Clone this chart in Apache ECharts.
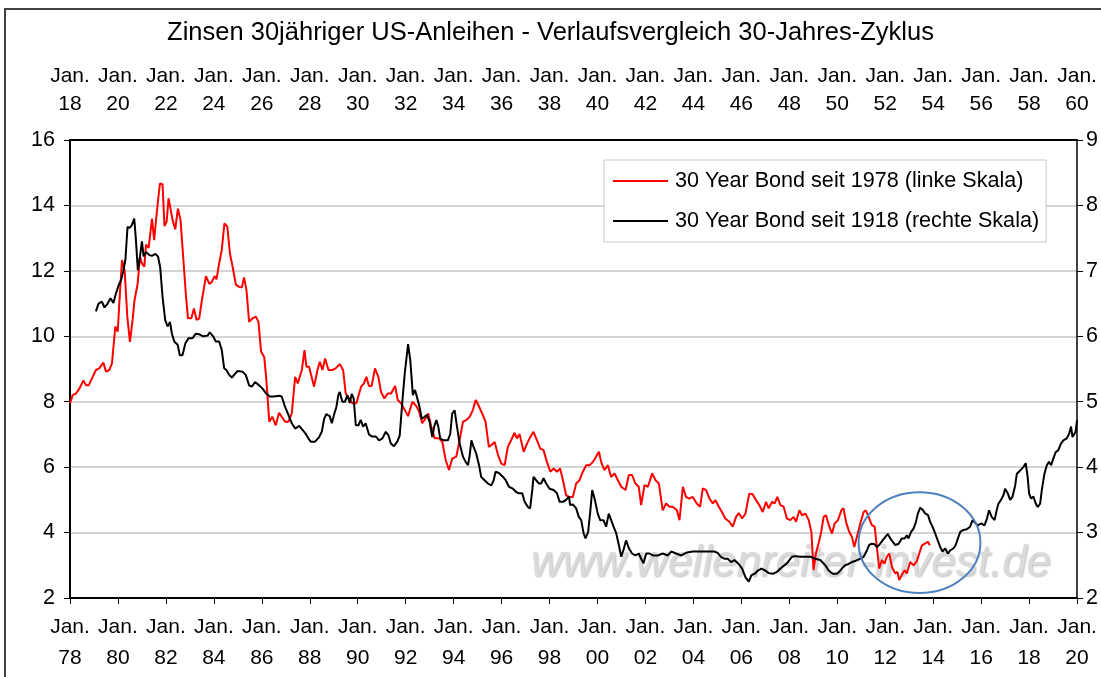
<!DOCTYPE html>
<html>
<head>
<meta charset="utf-8">
<script src="https://cdn.jsdelivr.net/npm/echarts@6/dist/echarts.min.js"></script>
<style>
  html, body { margin: 0; padding: 0; background: #fff; }
  #chart { width: 1101px; height: 677px; }
</style>
</head>
<body>
<div id="chart"></div>
<script>
// 30 Year Bond seit 1978 (linke Skala) – Jahr (dezimal) und Zins
var redYears = [
  1978.00, 1978.11, 1978.25, 1978.39, 1978.56, 1978.67, 1978.78, 1978.94, 1979.08, 1979.22,
  1979.39, 1979.50, 1979.64, 1979.75, 1979.89, 1979.99, 1980.08, 1980.17, 1980.28, 1980.39,
  1980.50, 1980.61, 1980.69, 1980.82, 1980.92, 1981.00, 1981.10, 1981.17, 1981.28, 1981.42,
  1981.51, 1981.63, 1981.75, 1981.86, 1981.94, 1982.03, 1982.11, 1982.19, 1982.28, 1982.39,
  1982.50, 1982.61, 1982.72, 1982.83, 1982.92, 1983.06, 1983.17, 1983.28, 1983.39, 1983.50,
  1983.67, 1983.81, 1983.92, 1984.03, 1984.11, 1984.22, 1984.33, 1984.44, 1984.56, 1984.67,
  1984.78, 1984.92, 1985.06, 1985.17, 1985.26, 1985.36, 1985.47, 1985.61, 1985.75, 1985.86,
  1985.97, 1986.10, 1986.19, 1986.31, 1986.44, 1986.58, 1986.72, 1986.83, 1986.97, 1987.11,
  1987.25, 1987.39, 1987.50, 1987.67, 1987.78, 1987.86, 1987.97, 1988.18, 1988.32, 1988.42,
  1988.53, 1988.64, 1988.78, 1988.94, 1989.08, 1989.25, 1989.39, 1989.50, 1989.64, 1989.78,
  1989.94, 1990.14, 1990.26, 1990.36, 1990.47, 1990.58, 1990.72, 1990.86, 1990.97, 1991.11,
  1991.25, 1991.39, 1991.56, 1991.67, 1991.81, 1991.89, 1992.10, 1992.28, 1992.44, 1992.56,
  1992.69, 1992.83, 1992.94, 1993.07, 1993.21, 1993.39, 1993.53, 1993.67, 1993.81, 1993.94,
  1994.11, 1994.25, 1994.39, 1994.53, 1994.67, 1994.81, 1994.92, 1995.03, 1995.19, 1995.33,
  1995.47, 1995.57, 1995.71, 1995.85, 1995.99, 1996.13, 1996.26, 1996.40, 1996.54, 1996.64,
  1996.75, 1996.92, 1997.06, 1997.17, 1997.33, 1997.47, 1997.61, 1997.75, 1997.89, 1998.03,
  1998.17, 1998.31, 1998.44, 1998.56, 1998.69, 1998.83, 1998.97, 1999.11, 1999.25, 1999.39,
  1999.53, 1999.67, 1999.81, 1999.94, 2000.06, 2000.15, 2000.29, 2000.43, 2000.57, 2000.71,
  2000.85, 2000.99, 2001.17, 2001.31, 2001.44, 2001.58, 2001.72, 2001.82, 2001.96, 2002.10,
  2002.19, 2002.28, 2002.42, 2002.56, 2002.72, 2002.86, 2003.00, 2003.14, 2003.31, 2003.42,
  2003.56, 2003.69, 2003.83, 2003.97, 2004.14, 2004.28, 2004.39, 2004.53, 2004.67, 2004.81,
  2004.92, 2005.06, 2005.19, 2005.33, 2005.50, 2005.64, 2005.78, 2005.89, 2006.03, 2006.17,
  2006.33, 2006.47, 2006.61, 2006.75, 2006.89, 2007.03, 2007.14, 2007.28, 2007.39, 2007.50,
  2007.63, 2007.76, 2007.90, 2008.04, 2008.18, 2008.28, 2008.42, 2008.53, 2008.67, 2008.81,
  2008.92, 2009.01, 2009.11, 2009.22, 2009.33, 2009.43, 2009.53, 2009.67, 2009.78, 2009.89,
  2010.03, 2010.17, 2010.26, 2010.38, 2010.50, 2010.61, 2010.71, 2010.82, 2010.96, 2011.10,
  2011.19, 2011.31, 2011.44, 2011.56, 2011.65, 2011.75, 2011.86, 2011.97, 2012.07, 2012.17,
  2012.28, 2012.42, 2012.51, 2012.58, 2012.69, 2012.81, 2012.90, 2013.04, 2013.18, 2013.32,
  2013.42, 2013.53, 2013.67, 2013.78, 2013.86
];
var redRates = [
  7.95, 8.20, 8.25, 8.40, 8.65, 8.50, 8.50, 8.75, 8.97, 9.02,
  9.20, 8.92, 8.97, 9.17, 10.30, 10.14, 11.30, 12.33, 12.00, 10.60,
  9.83, 10.50, 11.10, 11.60, 12.43, 12.23, 12.13, 12.80, 12.70, 13.60,
  12.94, 13.86, 14.67, 14.65, 13.37, 13.50, 14.22, 14.20, 13.55, 13.27,
  13.90, 13.55, 12.43, 11.30, 10.55, 10.55, 10.85, 10.50, 10.55, 11.10,
  11.84, 11.60, 11.67, 11.84, 11.74, 12.23, 12.64, 13.45, 13.35, 12.53,
  12.13, 11.57, 11.51, 11.50, 11.80, 11.41, 10.44, 10.55, 10.60, 10.44,
  9.53, 9.37, 8.66, 7.39, 7.54, 7.28, 7.66, 7.54, 7.39, 7.39,
  7.64, 8.76, 8.56, 8.97, 9.58, 9.07, 9.07, 8.46, 8.97, 9.22,
  8.97, 9.32, 8.97, 8.97, 9.02, 9.15, 8.97, 8.25, 8.10, 7.95,
  7.95, 8.46, 8.56, 8.76, 8.48, 8.48, 9.02, 8.76, 8.30, 8.10,
  8.25, 8.25, 8.48, 8.05, 7.95, 8.00, 7.56, 8.00, 7.87, 7.70,
  7.34, 7.49, 7.64, 7.23, 6.88, 6.88, 6.77, 6.21, 5.91, 6.26,
  6.32, 6.83, 7.39, 7.44, 7.54, 7.76, 8.05, 7.90, 7.64, 7.39,
  6.62, 6.67, 6.77, 6.37, 6.11, 6.06, 6.62, 6.83, 7.05, 6.88,
  7.01, 6.47, 6.72, 6.88, 7.08, 6.83, 6.57, 6.52, 6.16, 5.86,
  5.96, 5.86, 5.96, 5.60, 5.14, 5.09, 5.09, 5.50, 5.60, 5.86,
  6.06, 6.06, 6.16, 6.32, 6.47, 6.16, 5.91, 6.06, 5.70, 5.81,
  5.60, 5.40, 5.30, 5.76, 5.76, 5.50, 5.40, 4.84, 5.45, 5.40,
  5.60, 5.81, 5.60, 5.50, 4.68, 4.89, 4.79, 4.79, 4.68, 4.38,
  5.40, 5.09, 5.04, 5.09, 4.89, 4.79, 5.35, 5.30, 5.04, 4.89,
  4.99, 4.79, 4.63, 4.43, 4.33, 4.18, 4.48, 4.60, 4.43, 4.58,
  5.19, 5.17, 4.99, 4.84, 4.63, 4.94, 4.74, 4.94, 4.89, 5.09,
  4.84, 4.79, 4.43, 4.38, 4.48, 4.33, 4.68, 4.53, 4.58, 4.38,
  4.02, 2.85, 3.36, 3.67, 4.02, 4.48, 4.53, 4.18, 3.97, 4.28,
  4.38, 4.68, 4.74, 4.28, 4.02, 3.87, 3.56, 3.87, 4.28, 4.63,
  4.68, 4.48, 4.23, 4.18, 3.56, 2.90, 3.16, 3.05, 3.26, 3.36,
  2.95, 2.75, 2.80, 2.55, 2.70, 2.85, 2.75, 3.10, 3.00, 3.13,
  3.36, 3.61, 3.67, 3.72, 3.61
];

// 30 Year Bond seit 1918 (rechte Skala) – Jahr (dezimal, obere Achse) und Zins
var blackYears = [
  1919.08, 1919.19, 1919.33, 1919.44, 1919.57, 1919.69, 1919.81, 1919.92, 1920.03, 1920.13,
  1920.22, 1920.31, 1920.40, 1920.50, 1920.58, 1920.68, 1920.75, 1920.83, 1920.92, 1921.00,
  1921.07, 1921.17, 1921.31, 1921.42, 1921.56, 1921.67, 1921.76, 1921.86, 1921.97, 1922.07,
  1922.17, 1922.25, 1922.35, 1922.49, 1922.58, 1922.69, 1922.81, 1922.94, 1923.11, 1923.25,
  1923.39, 1923.56, 1923.74, 1923.83, 1923.97, 1924.08, 1924.22, 1924.33, 1924.43, 1924.53,
  1924.64, 1924.75, 1924.89, 1924.99, 1925.19, 1925.33, 1925.47, 1925.58, 1925.72, 1925.89,
  1926.03, 1926.17, 1926.33, 1926.51, 1926.72, 1926.83, 1926.97, 1927.11, 1927.25, 1927.39,
  1927.56, 1927.67, 1927.81, 1927.94, 1928.04, 1928.22, 1928.39, 1928.50, 1928.60, 1928.69,
  1928.83, 1928.92, 1929.01, 1929.11, 1929.19, 1929.25, 1929.36, 1929.47, 1929.57, 1929.67,
  1929.75, 1929.83, 1929.92, 1930.03, 1930.13, 1930.22, 1930.33, 1930.47, 1930.58, 1930.75,
  1930.89, 1931.03, 1931.17, 1931.28, 1931.38, 1931.51, 1931.65, 1931.75, 1931.86, 1931.96,
  1932.10, 1932.19, 1932.30, 1932.39, 1932.47, 1932.56, 1932.67, 1932.79, 1932.89, 1933.00,
  1933.11, 1933.19, 1933.28, 1933.36, 1933.44, 1933.58, 1933.76, 1933.86, 1933.94, 1934.04,
  1934.14, 1934.25, 1934.39, 1934.50, 1934.60, 1934.67, 1934.74, 1934.83, 1934.94, 1935.06,
  1935.15, 1935.29, 1935.43, 1935.57, 1935.67, 1935.75, 1935.89, 1936.06, 1936.17, 1936.31,
  1936.47, 1936.61, 1936.72, 1936.86, 1936.96, 1937.10, 1937.19, 1937.28, 1937.33, 1937.44,
  1937.56, 1937.65, 1937.75, 1937.86, 1938.00, 1938.17, 1938.31, 1938.42, 1938.56, 1938.69,
  1938.81, 1938.86, 1938.97, 1939.11, 1939.22, 1939.32, 1939.42, 1939.50, 1939.61, 1939.69,
  1939.78, 1939.89, 1940.01, 1940.11, 1940.25, 1940.36, 1940.47, 1940.57, 1940.67, 1940.78,
  1940.89, 1940.99, 1941.08, 1941.19, 1941.31, 1941.44, 1941.58, 1941.72, 1941.82, 1941.92,
  1942.03, 1942.17, 1942.31, 1942.51, 1942.72, 1942.93, 1943.07, 1943.28, 1943.49, 1943.69,
  1943.97, 1944.25, 1944.53, 1944.88, 1945.01, 1945.15, 1945.29, 1945.43, 1945.57, 1945.71,
  1945.89, 1946.03, 1946.17, 1946.31, 1946.42, 1946.56, 1946.69, 1946.83, 1947.00, 1947.14,
  1947.31, 1947.49, 1947.63, 1947.76, 1947.90, 1948.00, 1948.11, 1948.25, 1948.46, 1948.67,
  1948.88, 1949.08, 1949.29, 1949.50, 1949.64, 1949.81, 1949.99, 1950.08, 1950.19, 1950.33,
  1950.47, 1950.61, 1950.78, 1950.96, 1951.10, 1951.24, 1951.33, 1951.44, 1951.56, 1951.65,
  1951.75, 1951.89, 1952.00, 1952.11, 1952.21, 1952.31, 1952.42, 1952.56, 1952.69, 1952.81,
  1952.90, 1952.97, 1953.08, 1953.18, 1953.28, 1953.36, 1953.46, 1953.56, 1953.67, 1953.78,
  1953.88, 1953.97, 1954.08, 1954.19, 1954.29, 1954.39, 1954.50, 1954.61, 1954.72, 1954.85,
  1954.94, 1955.03, 1955.13, 1955.26, 1955.40, 1955.54, 1955.64, 1955.75, 1955.86, 1956.00,
  1956.14, 1956.24, 1956.33, 1956.44, 1956.56, 1956.65, 1956.72, 1956.83, 1956.93, 1957.00,
  1957.11, 1957.21, 1957.31, 1957.42, 1957.49, 1957.63, 1957.76, 1957.86, 1957.94, 1958.00,
  1958.08, 1958.18, 1958.28, 1958.36, 1958.46, 1958.53, 1958.64, 1958.74, 1958.83, 1958.92,
  1959.01, 1959.11, 1959.22, 1959.33, 1959.43, 1959.57, 1959.67, 1959.75, 1959.81, 1959.89,
  1959.94, 1960.00
];
var blackRates = [
  6.38, 6.50, 6.53, 6.44, 6.50, 6.58, 6.51, 6.66, 6.78, 6.86,
  6.99, 7.17, 7.67, 7.66, 7.70, 7.80, 7.47, 7.01, 7.22, 7.45,
  7.22, 7.29, 7.24, 7.23, 7.26, 7.22, 7.06, 6.60, 6.25, 6.15,
  6.22, 6.04, 5.92, 5.87, 5.71, 5.71, 5.89, 5.97, 5.97, 6.04,
  6.03, 6.00, 6.01, 6.06, 6.00, 5.92, 5.92, 5.79, 5.51, 5.48,
  5.41, 5.37, 5.43, 5.47, 5.46, 5.41, 5.25, 5.23, 5.30, 5.25,
  5.20, 5.13, 5.08, 5.08, 5.09, 5.08, 4.92, 4.80, 4.67, 4.59,
  4.63, 4.58, 4.52, 4.44, 4.39, 4.39, 4.46, 4.54, 4.74, 4.81,
  4.78, 4.67, 4.80, 4.92, 5.10, 5.15, 5.00, 5.00, 5.10, 4.98,
  5.12, 5.05, 4.64, 4.64, 4.72, 4.62, 4.67, 4.50, 4.47, 4.47,
  4.41, 4.44, 4.54, 4.49, 4.36, 4.32, 4.39, 4.48, 5.00, 5.43,
  5.88, 5.64, 5.10, 5.18, 5.18, 4.95, 4.74, 4.77, 4.80, 4.69,
  4.46, 4.62, 4.72, 4.62, 4.44, 4.41, 4.41, 4.51, 4.82, 4.87,
  4.62, 4.36, 4.16, 4.08, 4.03, 4.18, 4.41, 4.31, 4.21, 4.03,
  3.85, 3.80, 3.75, 3.72, 3.80, 3.93, 3.91, 3.85, 3.80, 3.70,
  3.67, 3.62, 3.60, 3.60, 3.47, 3.39, 3.37, 3.65, 3.85, 3.80,
  3.75, 3.75, 3.83, 3.75, 3.67, 3.65, 3.60, 3.47, 3.47, 3.50,
  3.55, 3.42, 3.43, 3.37, 3.24, 3.19, 2.99, 2.91, 3.01, 3.29,
  3.65, 3.50, 3.29, 3.19, 3.19, 3.09, 3.29, 3.19, 3.09, 2.99,
  2.81, 2.63, 2.73, 2.88, 2.76, 2.68, 2.65, 2.68, 2.60, 2.53,
  2.68, 2.68, 2.65, 2.65, 2.68, 2.65, 2.71, 2.68, 2.65, 2.69,
  2.71, 2.71, 2.71, 2.71, 2.69, 2.63, 2.60, 2.60, 2.55, 2.58,
  2.52, 2.45, 2.32, 2.25, 2.35, 2.37, 2.42, 2.45, 2.42, 2.38,
  2.37, 2.40, 2.45, 2.49, 2.53, 2.58, 2.63, 2.64, 2.63, 2.63,
  2.63, 2.60, 2.58, 2.50, 2.42, 2.37, 2.37, 2.40, 2.45, 2.50,
  2.52, 2.55, 2.57, 2.60, 2.63, 2.73, 2.81, 2.83, 2.82, 2.78,
  2.81, 2.88, 2.93, 2.98, 2.91, 2.86, 2.81, 2.83, 2.91, 2.91,
  2.96, 2.91, 3.01, 3.06, 3.16, 3.29, 3.38, 3.35, 3.29, 3.27,
  3.16, 3.09, 2.99, 2.88, 2.78, 2.71, 2.76, 2.68, 2.73, 2.76,
  2.81, 2.91, 3.01, 3.04, 3.05, 3.09, 3.19, 3.15, 3.11, 3.14,
  3.11, 3.21, 3.34, 3.24, 3.19, 3.34, 3.44, 3.50, 3.57, 3.67,
  3.60, 3.50, 3.55, 3.72, 3.90, 3.95, 4.00, 4.06, 3.85, 3.60,
  3.52, 3.55, 3.44, 3.39, 3.44, 3.65, 3.90, 4.03, 4.08, 4.03,
  4.13, 4.23, 4.26, 4.36, 4.41, 4.44, 4.51, 4.62, 4.46, 4.44,
  4.54, 4.72
];

var seriesNames = ['30 Year Bond seit 1978 (linke Skala)', '30 Year Bond seit 1918 (rechte Skala)'];
var titleText = 'Zinsen 30jähriger US-Anleihen - Verlaufsvergleich 30-Jahres-Zyklus';
var watermarkText = 'www.wellenreiter-invest.de';

// markierter Bereich (Ellipse) in Achsenwerten der unteren/linken Achse
var circleCenter = [2013.43, 3.69];
var circleHalfSize = [2.54, 1.54];

var font = '"Liberation Sans", Arial, sans-serif';

function zip(xs, ys) {
  var out = [];
  for (var i = 0; i < xs.length; i++) out.push([xs[i], ys[i]]);
  return out;
}
function janLabel(v) {
  var y = Math.round(v) % 100;
  return 'Jan.\n' + (y < 10 ? '0' + y : y);
}

var chart = echarts.init(document.getElementById('chart'));

var option = {
  backgroundColor: '#fff',
  animation: false,
  textStyle: { fontFamily: font },
  title: {
    text: titleText,
    left: 'center',
    top: 15,
    textStyle: { fontFamily: font, fontSize: 25.5, fontWeight: 'normal', color: '#000' }
  },
  legend: {
    data: seriesNames,
    orient: 'vertical',
    left: 604,
    top: 160,
    padding: [10, 7, 10, 9],
    itemGap: 18,
    itemWidth: 55,
    itemHeight: 2,
    icon: 'rect',
    backgroundColor: '#fff',
    borderColor: '#c8c8c8',
    borderWidth: 1,
    borderRadius: 0,
    textStyle: { fontFamily: font, fontSize: 21.6, color: '#000', lineHeight: 22, padding: [0, 0, 0, 2] }
  },
  grid: { left: 70, right: 22, top: 140, bottom: 79, containLabel: false },
  xAxis: [
    {
      type: 'value', position: 'bottom', min: 1978, max: 2020, interval: 2,
      axisLine: { show: true, lineStyle: { color: '#000', width: 2 } },
      axisTick: { show: true, inside: false, length: 6, lineStyle: { color: '#000', width: 1 } },
      axisLabel: { formatter: janLabel, fontFamily: font, fontSize: 21, color: '#000', lineHeight: 31, margin: 14 },
      splitLine: { show: false }
    },
    {
      type: 'value', position: 'top', min: 1918, max: 1960, interval: 2,
      axisLine: { show: true, lineStyle: { color: '#000', width: 2 } },
      axisTick: { show: false },
      axisLabel: { formatter: janLabel, fontFamily: font, fontSize: 21, color: '#000', lineHeight: 28, margin: 22 },
      splitLine: { show: false }
    }
  ],
  yAxis: [
    {
      type: 'value', position: 'left', min: 2, max: 16, interval: 2,
      axisLine: { show: true, lineStyle: { color: '#000', width: 2 } },
      axisTick: { show: true, inside: false, length: 6, lineStyle: { color: '#000', width: 1 } },
      axisLabel: { fontFamily: font, fontSize: 21.5, color: '#000', margin: 15 },
      splitLine: { show: true, lineStyle: { color: '#d4d4d4', width: 2 } }
    },
    {
      type: 'value', position: 'right', min: 2, max: 9, interval: 1,
      axisLine: { show: true, lineStyle: { color: '#000', width: 1.5 } },
      axisTick: { show: true, inside: false, length: 6, lineStyle: { color: '#000', width: 1 } },
      axisLabel: { fontFamily: font, fontSize: 21.5, color: '#000', margin: 9 },
      splitLine: { show: false }
    }
  ],
  series: [
    {
      name: seriesNames[0], type: 'line', xAxisIndex: 0, yAxisIndex: 0,
      data: zip(redYears, redRates), showSymbol: false, symbol: 'none',
      lineStyle: { color: '#ff0000', width: 2 }, itemStyle: { color: '#ff0000' }, z: 3
    },
    {
      name: seriesNames[1], type: 'line', xAxisIndex: 1, yAxisIndex: 1,
      data: zip(blackYears, blackRates), showSymbol: false, symbol: 'none',
      lineStyle: { color: '#000000', width: 2 }, itemStyle: { color: '#000000' }, z: 4
    }
  ]
};

chart.setOption(option);

var c = chart.convertToPixel({ xAxisIndex: 0, yAxisIndex: 0 }, circleCenter);
var e = chart.convertToPixel({ xAxisIndex: 0, yAxisIndex: 0 },
  [circleCenter[0] + circleHalfSize[0], circleCenter[1] + circleHalfSize[1]]);

chart.setOption({
  graphic: [
    {
      type: 'rect', z: 0, silent: true,
      shape: { x: 5, y: 9, width: 1200, height: 800 },
      style: { fill: 'none', stroke: '#404040', lineWidth: 2 }
    },
    {
      type: 'text', z: 1, silent: true, x: 531, y: 564,
      style: {
        text: watermarkText, fontFamily: font, fontSize: 44, fontStyle: 'italic',
        fill: '#dadada', textVerticalAlign: 'middle',
        textShadowColor: 'rgba(110,110,110,0.45)', textShadowBlur: 2,
        textShadowOffsetX: 1, textShadowOffsetY: 1
      }
    },
    {
      type: 'ellipse', z: 100, silent: true,
      shape: { cx: c[0], cy: c[1], rx: Math.abs(e[0] - c[0]), ry: Math.abs(c[1] - e[1]) },
      style: { fill: 'none', stroke: '#4f81bd', lineWidth: 2 }
    }
  ]
});
</script>
</body>
</html>
